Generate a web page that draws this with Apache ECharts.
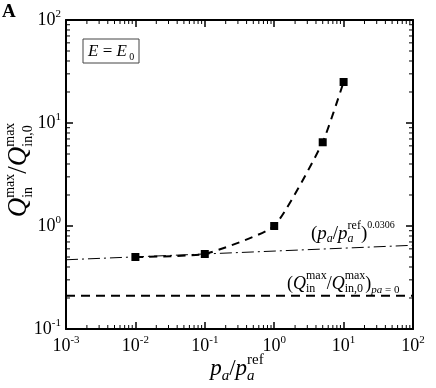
<!DOCTYPE html>
<html>
<head>
<meta charset="utf-8">
<script src="https://cdn.jsdelivr.net/npm/echarts@6/dist/echarts.min.js"></script>
<style>
  html, body { margin: 0; padding: 0; background: #fff; }
  #chart { width: 436px; height: 388px; }
</style>
</head>
<body>
<div id="chart"></div>
<script>
var FONT = "'Liberation Serif', 'Times New Roman', serif";

// measured points
var xVals = [0.01, 0.1, 1, 5, 10];
var yVals = [0.5, 0.535, 1.0, 6.5, 25];
// power-law fit line (read at both ends of the frame)
var fitX = [0.001, 100];
var fitY = [0.47, 0.65];
// pa = 0 reference level
var baseX = [0.001, 100];
var baseY = [0.21, 0.21];
// decades and minor tick multipliers
var xDecades = [-3, -2, -1, 0, 1, 2];
var yDecades = [-1, 0, 1, 2];
var minorMult = [2, 3, 4, 5, 6, 7, 8, 9];

function zip(a, b) {
  return a.map(function (v, i) { return [v, b[i]]; });
}
function minorValues(decades) {
  var out = [];
  for (var i = 0; i < decades.length - 1; i++) {
    minorMult.forEach(function (m) { out.push(m * Math.pow(10, decades[i])); });
  }
  return out;
}

// 10^n label
function powLabel(v) {
  var e = Math.round(Math.log(v) / Math.LN10);
  return '{b|10}{s|' + e + '}';
}
var labelRich = {
  b: { fontSize: 18, fontFamily: FONT, color: '#000', lineHeight: 22 },
  s: { fontSize: 11, fontFamily: FONT, color: '#000', lineHeight: 12, verticalAlign: 'top' }
};

// lay out a small formula from pieces [text, size, baselineOffset, flags]
// flags: i = italic, b = bold, o = stacked over previous piece
var measureCtx = document.createElement('canvas').getContext('2d');
function formula(pieces) {
  var cx = 0, prevStart = 0, children = [];
  pieces.forEach(function (p) {
    var f = p[3] || '';
    var font = (f.indexOf('b') >= 0 ? 'bold ' : '') + (f.indexOf('i') >= 0 ? 'italic ' : '') + p[1] + 'px ' + FONT;
    measureCtx.font = font;
    var w = measureCtx.measureText(p[0]).width;
    var start = f.indexOf('o') >= 0 ? prevStart : cx;
    children.push({
      type: 'text', x: start, y: p[2] - 0.34 * p[1],
      style: { text: p[0], font: font, fill: '#000', verticalAlign: 'middle', align: 'left' }
    });
    cx = Math.max(f.indexOf('o') >= 0 ? cx : 0, start + w);
    prevStart = start;
  });
  return { children: children, width: cx };
}

var yTitle = formula([
  ['Q', 27, 0, 'i'], ['max', 14, -13], ['in', 14, 5, 'o'],
  ['/', 27, 0], ['Q', 27, 0, 'i'], ['max', 14, -13], ['in,0', 14, 5, 'o']
]);
var xTitle = formula([
  ['p', 23, 0, 'i'], ['a', 15, 4, 'i'], ['/', 23, 0],
  ['p', 23, 0, 'i'], ['ref', 15, -12], ['a', 15, 4, 'io']
]);
var fitNote = formula([
  ['(', 19, 0], ['p', 19, 0, 'i'], ['a', 12, 3, 'i'], ['/', 19, 0],
  ['p', 19, 0, 'i'], ['ref', 12, -10], ['a', 12, 3, 'io'], [')', 19, 0], ['0.0306', 10, -11]
]);
var baseNote = formula([
  ['(', 18, 0], ['Q', 18, 0, 'i'], ['max', 12, -10], ['in', 12, 3, 'o'], ['/', 18, 0],
  ['Q', 18, 0, 'i'], ['max', 12, -10], ['in,0', 12, 3, 'o'], [')', 18, 0],
  ['pa', 11, 4, 'i'], [' = 0', 11, 4]
]);
var eNote = formula([
  ['E', 17, 0, 'i'], [' = ', 17, 0], ['E', 17, 0, 'i'], [' 0', 10, 4]
]);
var panel = formula([['A', 19, 0, 'b']]);

var frameLine = { lineStyle: { color: '#000', width: 2 } };
var majorTick = { show: true, inside: true, length: 7, lineStyle: { color: '#000', width: 1.5 } };

function xAxisCfg(pos, showLabel) {
  return {
    type: 'log', logBase: 10, min: 0.001, max: 100, position: pos,
    axisLine: frameLine, axisTick: majorTick, splitLine: { show: false },
    axisLabel: { show: showLabel, formatter: powLabel, rich: labelRich, margin: 6 }
  };
}
function yAxisCfg(pos, showLabel) {
  return {
    type: 'log', logBase: 10, min: 0.1, max: 100, position: pos,
    axisLine: frameLine, axisTick: majorTick, splitLine: { show: false },
    axisLabel: { show: showLabel, formatter: powLabel, rich: labelRich, margin: 5 }
  };
}

function minorX(params, api) {
  var cs = params.coordSys;
  var x = api.coord([api.value(0), 1])[0];
  var st = { stroke: '#000', lineWidth: 1 };
  return { type: 'group', children: [
    { type: 'line', shape: { x1: x, y1: cs.y + cs.height, x2: x, y2: cs.y + cs.height - 4 }, style: st },
    { type: 'line', shape: { x1: x, y1: cs.y, x2: x, y2: cs.y + 4 }, style: st }
  ] };
}
function minorY(params, api) {
  var cs = params.coordSys;
  var y = api.coord([1, api.value(1)])[1];
  var st = { stroke: '#000', lineWidth: 1 };
  return { type: 'group', children: [
    { type: 'line', shape: { x1: cs.x, y1: y, x2: cs.x + 4, y2: y }, style: st },
    { type: 'line', shape: { x1: cs.x + cs.width, y1: y, x2: cs.x + cs.width - 4, y2: y }, style: st }
  ] };
}

var chart = echarts.init(document.getElementById('chart'), null, { renderer: 'canvas' });
chart.setOption({
  backgroundColor: '#fff',
  animation: false,
  grid: { left: 66, right: 23, top: 20, bottom: 59 },
  xAxis: [xAxisCfg('bottom', true), xAxisCfg('top', false)],
  yAxis: [yAxisCfg('left', true), yAxisCfg('right', false)],
  series: [
    {
      type: 'line', data: zip(baseX, baseY), symbol: 'none',
      lineStyle: { color: '#000', width: 2, type: [9, 6] }
    },
    {
      type: 'line', data: zip(fitX, fitY), symbol: 'none',
      lineStyle: { color: '#000', width: 1, type: [12, 4, 2, 4] }
    },
    {
      type: 'line', data: zip(xVals, yVals), smooth: 0.15,
      symbol: 'rect', symbolSize: 8,
      itemStyle: { color: '#000' },
      lineStyle: { color: '#000', width: 2, type: [8, 6] }
    },
    {
      type: 'custom', renderItem: minorX, clip: false, silent: true,
      data: minorValues(xDecades).map(function (v) { return [v, 1]; })
    },
    {
      type: 'custom', renderItem: minorY, clip: false, silent: true,
      data: minorValues(yDecades).map(function (v) { return [1, v]; })
    }
  ],
  graphic: [
    { type: 'group', x: 28, y: 170 + yTitle.width / 2, rotation: Math.PI / 2, children: yTitle.children },
    { type: 'group', x: 237 - xTitle.width / 2, y: 377, children: xTitle.children },
    { type: 'group', x: 311, y: 240, children: fitNote.children },
    { type: 'group', x: 287, y: 290, children: baseNote.children },
    { type: 'rect', shape: { x: 83, y: 39, width: 56, height: 24 }, style: { fill: '#fff', stroke: '#444', lineWidth: 1 } },
    { type: 'group', x: 88, y: 57, children: eNote.children },
    { type: 'group', x: 2, y: 19, children: panel.children }
  ]
});
</script>
</body>
</html>
